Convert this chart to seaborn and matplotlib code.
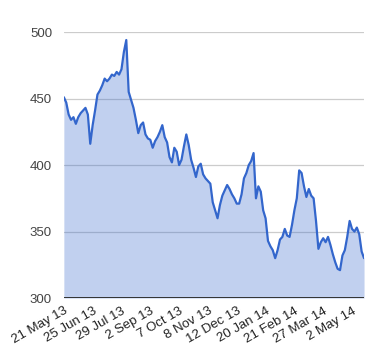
import numpy as np
import pandas as pd
import matplotlib
matplotlib.use("Agg")
import matplotlib.pyplot as plt
import seaborn as sns

price = [451, 447, 438, 434, 436, 431, 436, 439, 441, 443,
         438, 416, 430, 441, 453, 456, 460, 465, 463, 465,
         468, 467, 470, 468, 472, 485, 494, 455, 449, 443,
         434, 424, 430, 432, 423, 420, 419, 413, 418, 421,
         425, 430, 421, 417, 406, 402, 413, 410, 400, 404,
         414, 423, 415, 404, 398, 391, 399, 401, 393, 390,
         388, 386, 372, 366, 360, 370, 377, 381, 385, 382,
         378, 375, 371, 371, 378, 390, 394, 400, 403, 409,
         375, 384, 380, 366, 360, 343, 339, 336, 330, 336,
         344, 346, 352, 347, 346, 355, 366, 375, 396, 394,
         384, 376, 382, 377, 375, 358, 337, 342, 345, 342,
         346, 340, 333, 327, 322, 321, 332, 336, 346, 358,
         352, 350, 353, 348, 335, 330]

date_labels = ["21 May 13", "25 Jun 13", "29 Jul 13", "2 Sep 13", "7 Oct 13",
               "8 Nov 13", "12 Dec 13", "20 Jan 14", "21 Feb 14", "27 Mar 14",
               "2 May 14"]
label_every = 12  # one label every 24 trading days = 12 samples

df = pd.DataFrame({"idx": np.arange(len(price)), "price": price})

sns.set_style("white")
plt.rcParams["font.family"] = ["Liberation Sans", "DejaVu Sans"]

fig = plt.figure(figsize=(3.8, 3.6), dpi=100)
ax = fig.add_axes([0.168, 0.172, 0.79, 0.739])

blue = "#3366cc"
ax.fill_between(df["idx"], df["price"], 300, color=blue, alpha=0.3, linewidth=0, zorder=2)
sns.lineplot(data=df, x="idx", y="price", ax=ax, color=blue, linewidth=1.6, zorder=3)

ax.set_xlim(0, len(price) - 1)
ax.set_ylim(300, 500)
ax.set_yticks([300, 350, 400, 450, 500])
ax.grid(axis="y", color="#cccccc", linewidth=0.9, zorder=1)
ax.set_axisbelow(True)
ax.axhline(300, color="#333333", linewidth=1.4, zorder=4)

ax.set_xticks(np.arange(0, len(price), label_every)[:len(date_labels)])
ax.set_xticklabels(date_labels, rotation=30, ha="right", rotation_mode="anchor")

ax.tick_params(axis="y", length=0, pad=8.5, labelsize=9.5, labelcolor="#444444")
ax.tick_params(axis="x", length=0, pad=5, labelsize=9.5, labelcolor="#222222")
ax.set_xlabel("")
ax.set_ylabel("")
for s in ax.spines.values():
    s.set_visible(False)

fig.savefig("out.png", dpi=100)
